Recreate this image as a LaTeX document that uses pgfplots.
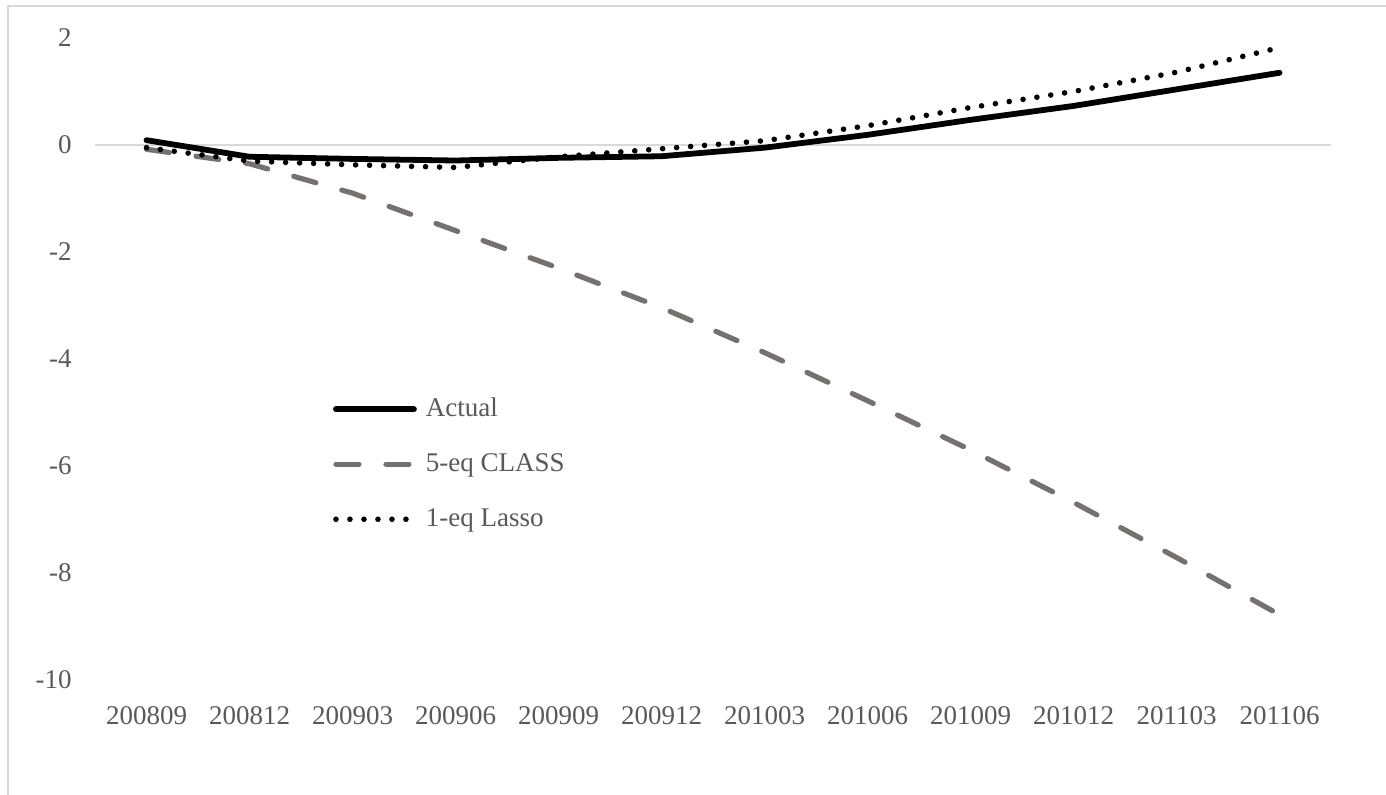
\documentclass[border=0pt]{standalone}
\usepackage{fontspec}
\setmainfont{Liberation Serif}
\usepackage{pgfplots}
\pgfplotsset{compat=1.18}

\definecolor{framegray}{RGB}{217,217,217}
\definecolor{labelgray}{RGB}{89,89,89}
\definecolor{dashgray}{RGB}{118,113,113}

\begin{document}
\begin{tikzpicture}
  \begin{axis}[
    at={(47.5pt,57pt)}, anchor=south west,
    scale only axis,
    width=618pt, height=321pt,
    xmin=-0.5, xmax=11.5,
    ymin=-10, ymax=2,
    axis line style={draw=none},
    major tick length=0pt,
    xtick={0,1,2,3,4,5,6,7,8,9,10,11},
    xticklabels={200809,200812,200903,200906,200909,200912,201003,201006,201009,201012,201103,201106},
    ytick={-10,-8,-6,-4,-2,0,2},
    yticklabels={-10,-8,-6,-4,-2,0,2},
    tick label style={font=\fontsize{13.5pt}{16pt}\selectfont, text=labelgray},
    xticklabel style={anchor=north, inner sep=0pt, yshift=-13pt},
    yticklabel style={anchor=east, inner sep=0pt, xshift=-11.5pt},
    clip=false,
    legend style={
      at={(0.1926,0.442)}, anchor=north west,
      draw=none, fill=none,
      inner sep=0pt, outer sep=0pt,
      row sep=14.5pt, column sep=4.5pt,
      font=\fontsize{13.5pt}{16pt}\selectfont, text=labelgray,
      nodes={text height=10pt, text depth=3pt, inner sep=0pt},
    },
    legend cell align={left},
    legend image code/.code={\draw[#1] (0pt,0pt) -- (39pt,0pt);},
  ]
  \draw[framegray, line width=1pt] (axis cs:-0.5,0) -- (axis cs:11.5,0);

  \addplot[black, line width=2.9pt, line join=round, line cap=round] coordinates {
    (0,0.09) (1,-0.22) (2,-0.26) (3,-0.29) (4,-0.24) (5,-0.21)
    (6,-0.05) (7,0.19) (8,0.47) (9,0.73) (10,1.04) (11,1.35)
  };
  \addlegendentry{Actual}

  \addplot[dashgray, line width=2.6pt, line join=round, line cap=round,
    dash pattern=on 11.5pt off 13.5pt] coordinates {
    (0,-0.08) (1,-0.35) (2,-0.9) (3,-1.6) (4,-2.3) (5,-3.04)
    (6,-3.88) (7,-4.78) (8,-5.7) (9,-6.68) (10,-7.71) (11,-8.78)
  };
  \addlegendentry{5-eq CLASS}

  \addplot[black, line width=2.8pt, line cap=round,
    dash pattern=on 0pt off 7pt] coordinates {
    (0,-0.05) (1,-0.3) (2,-0.37) (3,-0.42) (4,-0.22) (5,-0.07)
    (6,0.08) (7,0.36) (8,0.7) (9,1.0) (10,1.36) (11,1.82)
  };
  \addlegendentry{1-eq Lasso}
  \end{axis}
  \draw[framegray, line width=1pt] (4pt,394pt) rectangle (720pt,-20pt);
  \pgfresetboundingbox
  \path[use as bounding box] (0pt,0pt) rectangle (693pt,397pt);
\end{tikzpicture}
\end{document}
